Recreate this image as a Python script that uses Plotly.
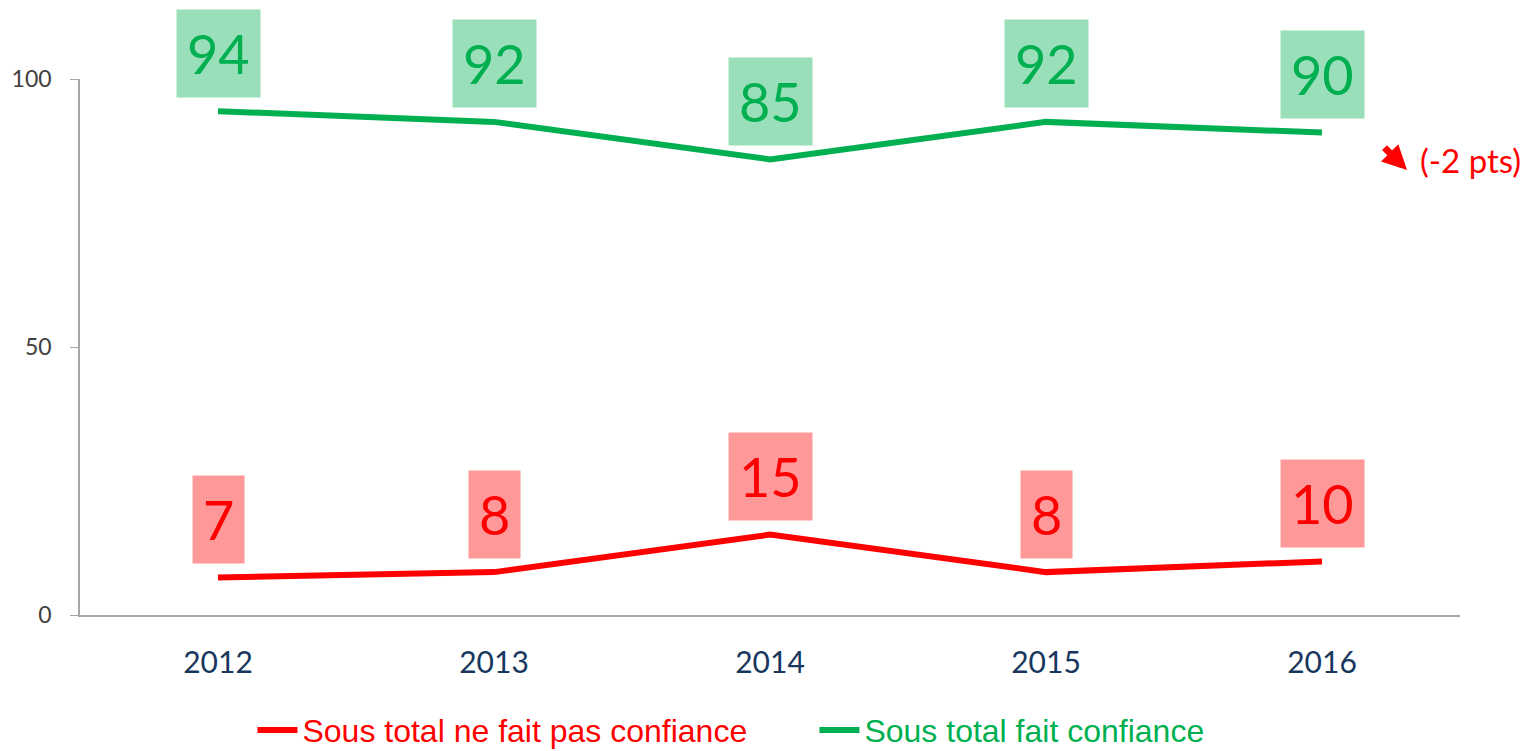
import plotly.graph_objects as go

years = ["2012", "2013", "2014", "2015", "2016"]
ne_fait_pas = [7, 8, 15, 8, 10]
fait = [94, 92, 85, 92, 90]
y_ticks = [0, 50, 100]

RED = "#FF0000"
GREEN = "#00B050"
RED_BG = "#FF9999"
GREEN_BG = "#99DFBA"

fig = go.Figure()
fig.add_trace(go.Scatter(x=years, y=ne_fait_pas, mode="lines",
                         name=f"<span style='color:{RED}'>Sous total ne fait pas confiance</span>"
                              + "&nbsp;" * 7,
                         line=dict(color=RED, width=6)))
fig.add_trace(go.Scatter(x=years, y=fait, mode="lines",
                         name=f"<span style='color:{GREEN}'>Sous total fait confiance</span>",
                         line=dict(color=GREEN, width=6)))

annotations = []
for ys, col, bg in [(ne_fait_pas, RED, RED_BG), (fait, GREEN, GREEN_BG)]:
    for i, yv in enumerate(ys):
        annotations.append(dict(x=i, y=yv, xref="x", yref="y", text=str(yv), showarrow=False,
                                yanchor="middle", yshift=58, bgcolor=bg, borderpad=10, height=67,
                                font=dict(family="Lato, Open Sans, sans-serif", size=54, color=col)))

# trend arrow and text
annotations.append(dict(x=0.9616, y=0.830, xref="paper", yref="paper", text="", showarrow=True,
                        ax=-24, ay=-24, arrowcolor=RED, arrowwidth=7, arrowhead=2, arrowsize=0.7,
                        standoff=0, startstandoff=0))
annotations.append(dict(x=0.9696, y=0.849, xref="paper", yref="paper", xanchor="left", yanchor="middle",
                        showarrow=False, text="(-2 pts)",
                        font=dict(family="Lato, sans-serif", size=33, color=RED)))

fig.update_layout(
    width=1522, height=743,
    margin=dict(l=72, r=70, t=71, b=136),
    paper_bgcolor="white", plot_bgcolor="white",
    annotations=annotations,
    showlegend=True,
    legend=dict(orientation="h", x=0.475, xanchor="center", xref="container",
                y=0.028, yanchor="middle", yref="container",
                font=dict(family="Liberation Sans, Arial, sans-serif", size=32),
                itemwidth=40, tracegroupgap=0),
    xaxis=dict(type="category", range=[-0.5, 4.5], showline=True, linecolor="#A6A6A6", linewidth=1.5,
               showgrid=False, ticks="", automargin=False,
               tickfont=dict(family="Lato, sans-serif", size=30, color="#17375E"),
               ticklabelstandoff=20),
    yaxis=dict(range=[0, 100], tickvals=y_ticks, showline=True, linecolor="#A6A6A6", linewidth=1.5,
               showgrid=False, zeroline=False, ticks="outside", ticklen=8, tickcolor="#A6A6A6",
               automargin=False, ticklabelstandoff=14,
               tickfont=dict(family="Lato, sans-serif", size=23, color="#404040")),
)

fig.write_html("out.html")
